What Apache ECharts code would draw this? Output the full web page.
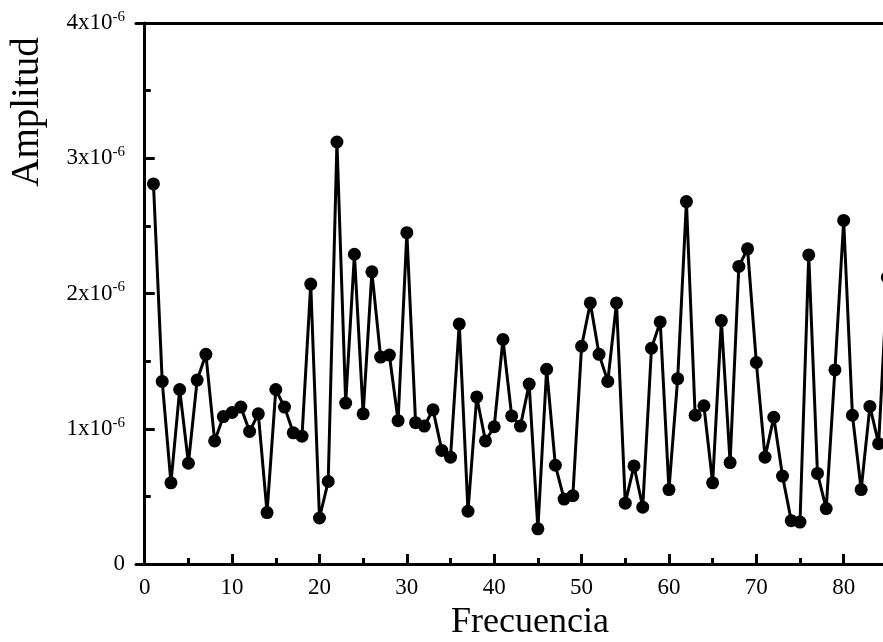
<!DOCTYPE html>
<html>
<head>
<meta charset="utf-8">
<script src="https://cdn.jsdelivr.net/npm/echarts@6/dist/echarts.min.js"></script>
<style>
  html, body { margin: 0; padding: 0; background: #fff; }
  #chart { width: 883px; height: 642px; }
</style>
</head>
<body>
<div id="chart"></div>
<script>
// Amplitude spectrum, values in units of 1x10^-6
const amplitude = [
  2.81, 1.35, 0.60, 1.29, 0.745, 1.36, 1.55, 0.91, 1.09, 1.12,
  1.16, 0.98, 1.11, 0.38, 1.29, 1.16, 0.97, 0.945, 2.07, 0.34,
  0.61, 3.12, 1.19, 2.29, 1.11, 2.16, 1.53, 1.545, 1.06, 2.45,
  1.045, 1.02, 1.14, 0.84, 0.79, 1.775, 0.39, 1.235, 0.91, 1.015,
  1.66, 1.095, 1.02, 1.33, 0.26, 1.44, 0.73, 0.48, 0.505, 1.61,
  1.93, 1.55, 1.35, 1.93, 0.45, 0.725, 0.42, 1.595, 1.79, 0.55,
  1.37, 2.68, 1.10, 1.17, 0.60, 1.80, 0.75, 2.20, 2.33, 1.49,
  0.79, 1.085, 0.65, 0.32, 0.31, 2.285, 0.67, 0.41, 1.435, 2.54,
  1.10, 0.55, 1.165, 0.89, 2.12
];
// Frequency index of each sample (1, 2, 3, ...)
const frequency = amplitude.map((_, i) => i + 1);
const xMajorTicks = [0, 10, 20, 30, 40, 50, 60, 70, 80];
const xMinorTicks = [5, 15, 25, 35, 45, 55, 65, 75];
const exponentLabel = '-6';

const FONT = '"Liberation Serif", "DejaVu Serif", serif';
const X_MIN = -1, X_MAX = 84.5;

const chart = echarts.init(document.getElementById('chart'), null, { renderer: 'canvas' });

const axisLine = { show: true, lineStyle: { color: '#000', width: 3 } };
const tickStyle = { color: '#000', width: 3 };

chart.setOption({
  animation: false,
  backgroundColor: '#fff',
  grid: { left: 136, top: 23, right: 0, height: 541, containLabel: false },
  xAxis: [
    {
      type: 'value', min: X_MIN, max: X_MAX,
      position: 'bottom',
      axisLine: axisLine,
      axisTick: { show: true, inside: true, length: 10, lineStyle: tickStyle, customValues: xMajorTicks },
      splitLine: { show: false },
      axisLabel: {
        color: '#000', fontFamily: FONT, fontSize: 23, margin: 12,
        customValues: xMajorTicks,
        formatter: v => String(v)
      }
    },
    {
      // minor ticks at the half decades
      type: 'value', min: X_MIN, max: X_MAX, position: 'bottom',
      axisLine: { show: false },
      axisTick: { show: true, inside: true, length: 6, lineStyle: tickStyle, customValues: xMinorTicks },
      axisLabel: { show: false },
      splitLine: { show: false }
    },
    {
      type: 'value', min: X_MIN, max: X_MAX, position: 'top',
      axisLine: axisLine, axisTick: { show: false }, axisLabel: { show: false },
      splitLine: { show: false }
    }
  ],
  yAxis: [
    {
      type: 'value', min: 0, max: 4, interval: 1,
      axisLine: axisLine,
      axisTick: { show: true, inside: true, length: 10, lineStyle: tickStyle },
      minorTick: { show: true, splitNumber: 2, length: 6, lineStyle: tickStyle },
      splitLine: { show: false },
      axisLabel: {
        color: '#000', fontFamily: FONT, fontSize: 23, margin: 11,
        formatter: v => v === 0 ? '{b|0}' : '{b|' + v + 'x10}{s|' + exponentLabel + '}',
        rich: {
          b: { fontFamily: FONT, fontSize: 23, color: '#000' },
          s: { fontFamily: FONT, fontSize: 15, color: '#000', verticalAlign: 'top', padding: [0, 0, 12, 0] }
        }
      }
    }
  ],
  graphic: [
    {
      type: 'text', x: 530, y: 641,
      style: { text: 'Frecuencia', font: '36px ' + FONT, fill: '#000',
               textAlign: 'center', textVerticalAlign: 'bottom' },
      silent: true
    },
    {
      type: 'text', x: 28, y: 112, rotation: Math.PI / 2,
      style: { text: 'Amplitud', font: '39px ' + FONT, fill: '#000',
               textAlign: 'center', textVerticalAlign: 'middle' },
      silent: true
    }
  ],
  series: [
    {
      type: 'line',
      xAxisIndex: 0, yAxisIndex: 0,
      data: frequency.map((f, i) => [f, amplitude[i]]),
      symbol: 'circle', symbolSize: 13,
      showAllSymbol: true,
      clip: false,
      lineStyle: { color: '#000', width: 3 },
      itemStyle: { color: '#000' }
    }
  ]
});
</script>
</body>
</html>
